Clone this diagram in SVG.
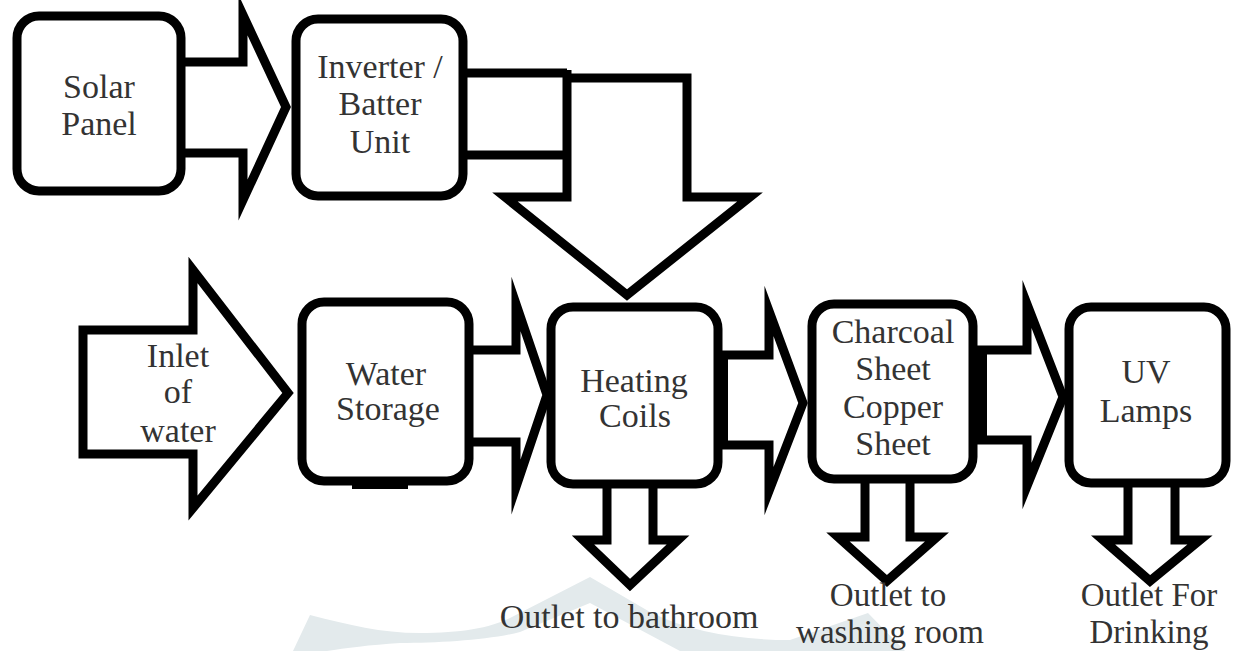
<svg xmlns="http://www.w3.org/2000/svg" width="1234" height="651" viewBox="0 0 1234 651">
<style>
.box{fill:#fff;stroke:#000;stroke-width:9}
.arr{fill:#fff;stroke:#000;stroke-width:9;stroke-linejoin:miter;stroke-miterlimit:10}
.ln{fill:none;stroke:#000;stroke-width:9}
.t{font-family:'Liberation Serif','Times New Roman',serif;font-size:34px;fill:#333;text-anchor:middle}
.s{font-size:33px}
</style>
<rect width="1234" height="651" fill="#fff"/>
<path d="M293,651 L310,615 C350,625 380,633 420,633 C460,633 490,628 510,618 L590,577 L650,612 C690,632 740,640 790,640 L868,613 L905,651 L680,651 L590,603 L520,632 C490,640 440,643 400,643 C370,645 345,648 327,651 Z" fill="#e3eaec"/>
<g id="connectors">
<path class="arr" d="M185,62 H243 V15 L286,107 L243,200 V153 H185"/>
<path class="ln" d="M463,73 H567 M463,155 H567"/>
<path class="arr" d="M567,70 V197 H505 L627,295 L750,197 H687 V78 H567"/>
<path class="arr" d="M83,330 H193 V270 L288,393 L193,508 V454 H83 Z"/>
<path class="arr" d="M473,350 H516 V304 L547,395 L516,487 V442 H473"/>
<path class="arr" d="M722,355 H769 V311 L803,403 L769,491 V445 H722"/>
<rect x="716" y="355" width="12" height="90" fill="#000"/>
<path class="arr" d="M977,350 H1027 V304 L1063,397 L1027,486 V440 H977"/>
<rect x="971" y="350" width="16" height="90" fill="#000"/>
<path class="arr" d="M607,488 V540 H583 L630,585 L678,540 H653 V488"/>
<path class="arr" d="M865,483 V537 H838 L887,581 L937,537 H910 V483"/>
<path class="arr" d="M1128,487 V540 H1103 L1150,581 L1200,540 H1175 V487"/>
</g>
<g id="solar-panel">
<rect class="box" x="17" y="16" width="164" height="175" rx="22"/>
<text class="t" x="99" y="98">Solar</text>
<text class="t" x="99" y="135">Panel</text>
</g>
<g id="inverter">
<rect class="box" x="296" y="19" width="167" height="177" rx="22"/>
<text class="t" x="380" y="78">Inverter /</text>
<text class="t" x="380" y="115">Batter</text>
<text class="t" x="380" y="153">Unit</text>
</g>
<g id="inlet">
<text class="t" x="178" y="367">Inlet</text>
<text class="t" x="178" y="403">of</text>
<text class="t" x="178" y="442">water</text>
</g>
<g id="water-storage">
<rect class="box" x="302" y="302" width="167" height="179" rx="22"/>
<rect x="352" y="481" width="56" height="8" fill="#000"/>
<text class="t" x="386" y="385">Water</text>
<text class="t" x="388" y="420">Storage</text>
</g>
<g id="heating-coils">
<rect class="box" x="551" y="307" width="167" height="177" rx="22"/>
<text class="t" x="634" y="392">Heating</text>
<text class="t" x="635" y="427">Coils</text>
</g>
<g id="charcoal-copper">
<rect class="box" x="812" y="304" width="161" height="175" rx="22"/>
<text class="t" x="893" y="343">Charcoal</text>
<text class="t" x="893" y="380">Sheet</text>
<text class="t" x="893" y="418">Copper</text>
<text class="t" x="893" y="455">Sheet</text>
</g>
<g id="uv-lamps">
<rect class="box" x="1069" y="307" width="157" height="176" rx="22"/>
<text class="t" x="1146" y="383">UV</text>
<text class="t" x="1146" y="422">Lamps</text>
</g>
<g id="outlet-bathroom">
<text class="t" x="629" y="628">Outlet to bathroom</text>
</g>
<g id="outlet-washing">
<text class="t s" x="888" y="606">Outlet to</text>
<text class="t s" x="890" y="643">washing room</text>
</g>
<g id="outlet-drinking">
<text class="t s" x="1149" y="606">Outlet For</text>
<text class="t s" x="1149" y="643">Drinking</text>
</g>
</svg>
